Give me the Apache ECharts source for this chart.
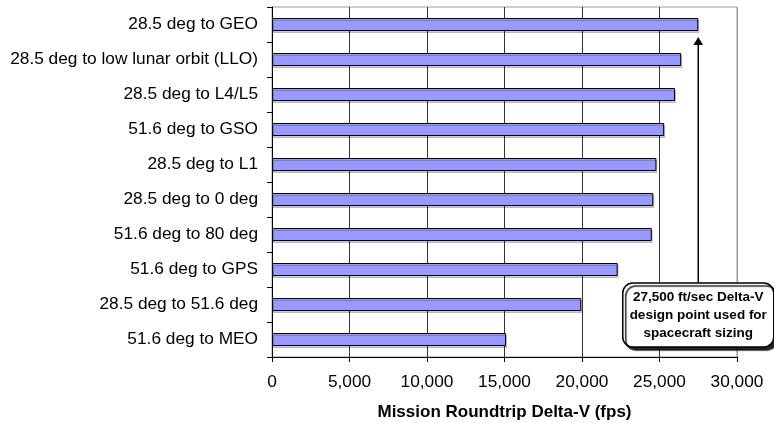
<!DOCTYPE html>
<html>
<head>
<meta charset="utf-8">
<script src="https://cdn.jsdelivr.net/npm/echarts@6/dist/echarts.min.js"></script>
<style>
  html, body { margin: 0; padding: 0; background: #fff; }
  #chart { width: 774px; height: 423px; }
</style>
</head>
<body>
<div id="chart"></div>
<script>
const missions = [
  '28.5 deg to GEO',
  '28.5 deg to low lunar orbit (LLO)',
  '28.5 deg to L4/L5',
  '51.6 deg to GSO',
  '28.5 deg to L1',
  '28.5 deg to 0 deg',
  '51.6 deg to 80 deg',
  '51.6 deg to GPS',
  '28.5 deg to 51.6 deg',
  '51.6 deg to MEO'
]
const deltaV = [27500, 26400, 26000, 25300, 24800, 24600, 24500, 22300, 19950, 15100]
const designPoint = 27500
const noteLines = ['27,500 ft/sec Delta-V', 'design point used for', 'spacecraft sizing']

const font = '"Liberation Sans", Arial, sans-serif'
const chart = echarts.init(document.getElementById('chart'))

const option = {
  animation: false,
  grid: {
    left: 272,
    right: 37,
    top: 7,
    bottom: 66,
    containLabel: false,
    outerBoundsMode: 'none',
    show: true,
    borderColor: '#999',
    borderWidth: 1
  },
  xAxis: {
    type: 'value',
    min: 0,
    max: 30000,
    interval: 5000,
    name: 'Mission Roundtrip Delta-V (fps)',
    nameLocation: 'middle',
    nameGap: 47,
    nameTextStyle: { fontFamily: font, fontSize: 17, fontWeight: 'bold', color: '#000' },
    axisLine: { show: true, lineStyle: { color: '#000', width: 1 } },
    axisTick: { show: true, length: 5, lineStyle: { color: '#000' } },
    axisLabel: {
      fontFamily: font,
      fontSize: 17.3,
      color: '#000',
      margin: 17,
      formatter: v => v.toLocaleString('en-US')
    },
    splitLine: {
      show: true,
      lineStyle: { color: ['#333', '#333', '#333', '#333', '#333', '#333', '#999'], width: 1 }
    }
  },
  yAxis: {
    type: 'category',
    inverse: true,
    data: missions,
    axisLine: { show: true, lineStyle: { color: '#000', width: 1 } },
    axisTick: { show: true, length: 5, lineStyle: { color: '#000' } },
    axisLabel: { fontFamily: font, fontSize: 17.3, color: '#000', margin: 14, padding: [3, 0, 0, 0] },
    splitLine: { show: false }
  },
  series: [
    {
      type: 'bar',
      data: deltaV,
      barWidth: 13,
      itemStyle: {
        color: '#9999ff',
        borderColor: '#000',
        borderWidth: 1,
        shadowColor: 'rgba(0,0,0,0.2)',
        shadowOffsetX: 1,
        shadowOffsetY: 2
      }
    }
  ]
}

chart.setOption(option)

// arrow from the design point note up to the top bar, plus the note box
const ax = chart.convertToPixel({ xAxisIndex: 0 }, designPoint)
const tipY = chart.convertToPixel({ yAxisIndex: 0 }, 0) + 12.5
const boxTop = 283
const boxW = 151
const boxH = 64

chart.setOption({
  graphic: [
    {
      type: 'line',
      shape: { x1: ax, y1: tipY + 6, x2: ax, y2: boxTop },
      style: { stroke: '#000', lineWidth: 1.5 },
      z: 100
    },
    {
      type: 'polygon',
      shape: { points: [[ax, tipY], [ax - 4.8, tipY + 8], [ax + 4.8, tipY + 8]] },
      style: { fill: '#000' },
      z: 100
    },
    {
      type: 'rect',
      shape: { x: ax - boxW / 2, y: boxTop, width: boxW, height: boxH, r: 10 },
      style: {
        fill: '#fff',
        stroke: '#000',
        lineWidth: 1.5,
        shadowColor: 'rgba(0,0,0,0.85)',
        shadowOffsetX: 3,
        shadowOffsetY: 3,
        shadowBlur: 1
      },
      z: 100
    },
    {
      type: 'text',
      x: ax,
      y: boxTop + boxH / 2,
      style: {
        text: noteLines.join('\n'),
        fontFamily: font,
        fontSize: 13.5,
        fontWeight: 'bold',
        lineHeight: 18,
        fill: '#000',
        align: 'center',
        verticalAlign: 'middle'
      },
      z: 101
    }
  ]
})
</script>
</body>
</html>
